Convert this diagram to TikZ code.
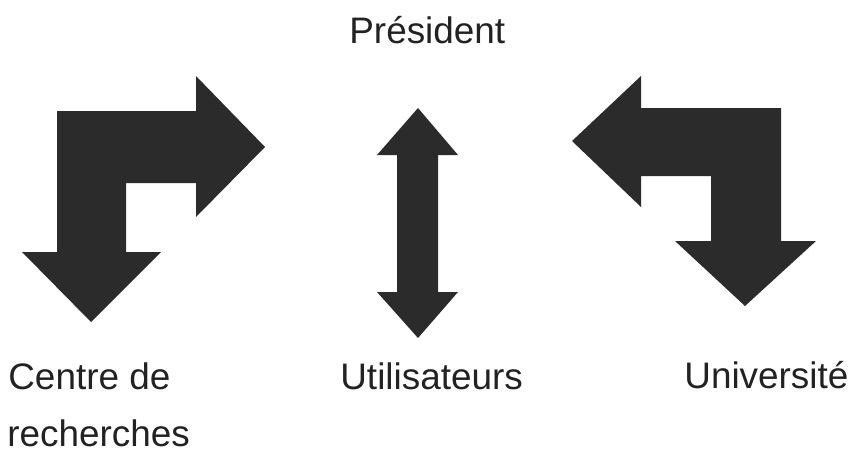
\documentclass[tikz,border=0pt]{standalone}
\usepackage{fontspec}
\setmainfont{Liberation Sans}
\usepackage{tikz}
\usetikzlibrary{positioning}
\definecolor{arrowgray}{RGB}{43,43,43}
\definecolor{textgray}{RGB}{34,34,34}

\begin{document}
\begin{tikzpicture}[x=0.02cm, y=-0.02cm, label node/.style={inner sep=0pt, anchor=base west, text=textgray, font=\fontsize{21}{25}\selectfont}, block arrow/.style={fill=arrowgray, draw=none}]

\useasboundingbox (0,0) rectangle (858,460);

\node[label node](pres) at (349,43) {Président};
\node[label node](centre) at (8,389) {Centre de};
\node[label node](rech) at (7,446) {recherches};
\node[label node](util) at (340,389) {Utilisateurs};
\node[label node](univ) at (684,388) {Université};

% centre de recherches
\fill[block arrow] (57,111) -- (196,111) -- (196,76) -- (265,147) -- (196,217) -- (196,183) -- (126,183) -- (126,252) -- (161,252) -- (91,322) -- (22,252) -- (57,252) -- cycle;

% utilisateurs
\fill[block arrow] (418,108) -- (458,155) -- (438,155) -- (438,292) -- (458,292) -- (418,338) -- (377,292) -- (397,292) -- (397,155) -- (377,155) -- cycle;

% universite
\fill[block arrow] (572,141) -- (641,76) -- (641,108) -- (781,108) -- (781,241) -- (816,241) -- (745,306) -- (675,241) -- (711,241) -- (711,176) -- (641,176) -- (641,207) -- cycle;

\end{tikzpicture}
\end{document}
